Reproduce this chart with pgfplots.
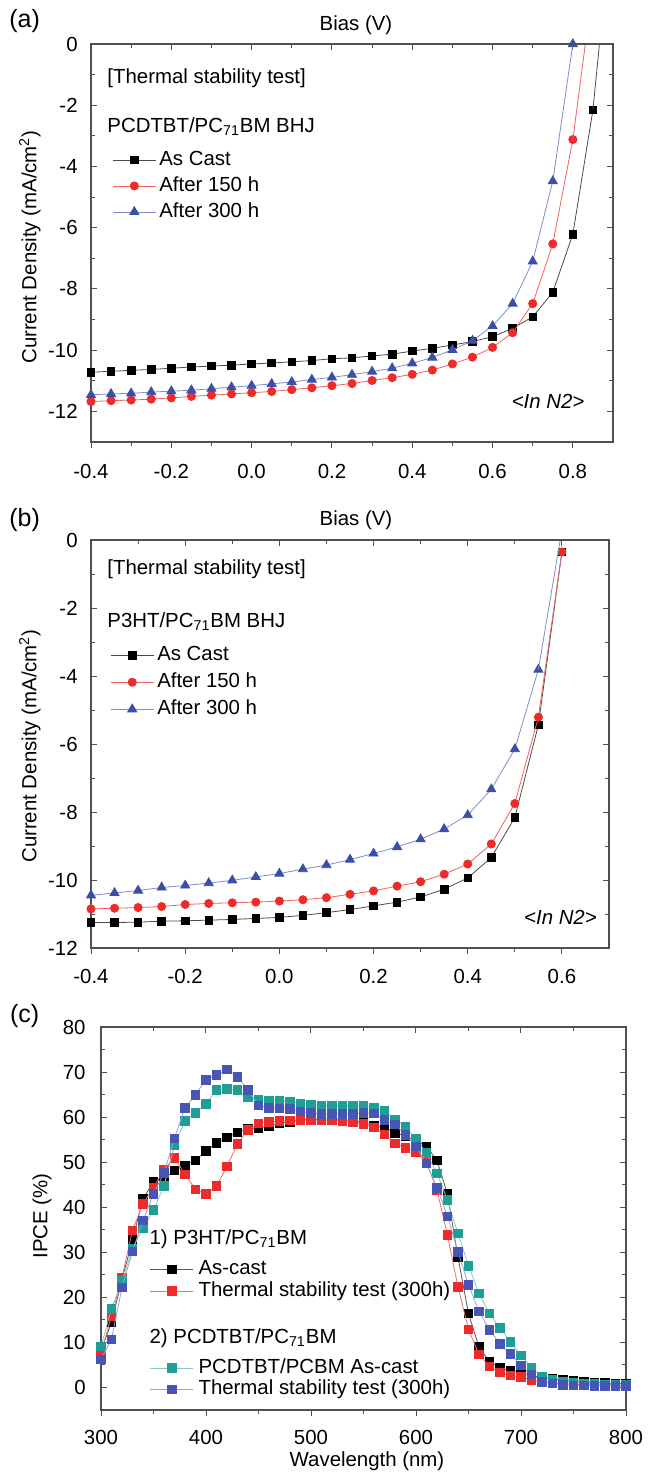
\documentclass[border=0pt]{standalone}
\usepackage{pgfplots}
\pgfplotsset{compat=1.18}
\usepackage{fontspec}
\setmainfont{Liberation Sans}
\definecolor{cred}{HTML}{EE2B2B}
\definecolor{cblue}{HTML}{3A4FA6}
\definecolor{cteal}{HTML}{1F9E95}
\definecolor{cbluesq}{HTML}{4755B5}
\definecolor{frm}{HTML}{505050}
\newcommand{\st}{\rule[-2.2pt]{0pt}{9.8pt}}
\newcommand{\fs}{\fontsize{10.2}{12}\selectfont}
\pgfplotsset{
  common/.style={
    scale only axis, clip mode=individual,
    axis line style={frm, line width=0.6pt},
    tick style={frm, line width=0.5pt},
    major tick length=3pt, minor tick length=1.8pt,
    tick label style={font=\fs},
    minor x tick num=1, minor y tick num=1,
  },
  datax/.style={common, tick align=inside, xtick pos=right, xticklabel pos=left,
    ytick pos=both, yticklabel pos=left,
    xticklabel style={inner sep=0pt, anchor=base, yshift=-18pt},
    legend cell align=left,
    legend image code/.code={\draw[mark repeat=2,mark phase=2] plot coordinates {(0cm,0cm)(0.38cm,0cm)(0.76cm,0cm)};},
  },
  botx/.style={common, hide y axis, tick align=outside, xtick pos=left, xticklabels={}, ymin=0, ymax=1},
  sblack/.style={color=black!70, line width=0.4pt, mark=square*, mark size=1.9pt, mark options={solid, fill=black, draw=black}},
  sred/.style={color=cred!75, line width=0.4pt, mark=*, mark size=2.05pt, mark options={solid, fill=cred, draw=cred}},
  sblue/.style={color=cblue!65, line width=0.4pt, mark=triangle*, mark size=2.6pt, mark options={solid, fill=cblue, draw=cblue}},
  qblack/.style={color=black!65, line width=0.4pt, mark=square*, mark size=2.15pt, mark options={solid, fill=black, draw=black}},
  qred/.style={color=cred!70, line width=0.4pt, mark=square*, mark size=2.15pt, mark options={solid, fill=cred, draw=cred}},
  qteal/.style={color=cteal!55, line width=0.4pt, mark=square*, mark size=2.15pt, mark options={solid, fill=cteal, draw=cteal}},
  qblue/.style={color=cbluesq!55, line width=0.4pt, mark=square*, mark size=2.15pt, mark options={solid, fill=cbluesq, draw=cbluesq}},
}
\begin{document}
\begin{tikzpicture}
\useasboundingbox (0,0) rectangle (324.5pt,-736.5pt);
% ---------------- (a) ----------------
\begin{axis}[datax, at={(45.5pt,-22pt)}, anchor=north west, width=261pt, height=199pt,
  xmin=-0.4, xmax=0.9, ymin=-13, ymax=0,
  xtick={-0.4,-0.2,0,0.2,0.4,0.6,0.8}, xticklabels={-0.4,-0.2,0.0,0.2,0.4,0.6,0.8},
  ytick={-12,-10,-8,-6,-4,-2,0}, yticklabels={-12,-10,-8,-6,-4,-2,0},
  yticklabel style={inner sep=0pt, anchor=east, xshift=-6.5pt},
  legend style={draw=none, fill=none, inner sep=0pt, at={(axis cs:-0.348,-3.42)}, anchor=north west, row sep=2.2pt, column sep=1pt, nodes={inner sep=0.5pt, text depth=, text height=}, font=\fs},
]
\addplot[sblack] coordinates {(-0.4,-10.72)(-0.35,-10.69)(-0.3,-10.66)(-0.25,-10.63)(-0.2,-10.59)(-0.15,-10.55)(-0.1,-10.52)(-0.05,-10.49)(0,-10.45)(0.05,-10.42)(0.1,-10.38)(0.15,-10.34)(0.2,-10.28)(0.25,-10.25)(0.3,-10.19)(0.35,-10.13)(0.4,-10.03)(0.45,-9.94)(0.5,-9.83)(0.55,-9.72)(0.6,-9.56)(0.65,-9.29)(0.7,-8.91)(0.75,-8.11)(0.8,-6.21)(0.85,-2.15)};
\addlegendentry{As Cast\st}
\addplot[sred] coordinates {(-0.4,-11.68)(-0.35,-11.65)(-0.3,-11.63)(-0.25,-11.60)(-0.2,-11.56)(-0.15,-11.51)(-0.1,-11.47)(-0.05,-11.43)(0,-11.39)(0.05,-11.35)(0.1,-11.29)(0.15,-11.23)(0.2,-11.16)(0.25,-11.09)(0.3,-10.99)(0.35,-10.90)(0.4,-10.79)(0.45,-10.65)(0.5,-10.45)(0.55,-10.23)(0.6,-9.91)(0.65,-9.43)(0.7,-8.48)(0.75,-6.53)(0.8,-3.12)};
\addlegendentry{After 150 h\st}
\addplot[sblue] coordinates {(-0.4,-11.46)(-0.35,-11.43)(-0.3,-11.41)(-0.25,-11.37)(-0.2,-11.34)(-0.15,-11.31)(-0.1,-11.26)(-0.05,-11.21)(0,-11.16)(0.05,-11.10)(0.1,-11.04)(0.15,-10.96)(0.2,-10.89)(0.25,-10.80)(0.3,-10.70)(0.35,-10.59)(0.4,-10.43)(0.45,-10.24)(0.5,-9.99)(0.55,-9.69)(0.6,-9.21)(0.65,-8.48)(0.7,-7.10)(0.75,-4.48)(0.8,0)};
\addlegendentry{After 300 h\st}
\addplot[color=black!70, line width=0.4pt, no marks, forget plot] coordinates {(0.85,-2.15)(0.9,4.5)};
\addplot[color=cred!75, line width=0.4pt, no marks, forget plot] coordinates {(0.8,-3.12)(0.85,1.9)};
\node[anchor=base west, inner sep=0pt, font=\fs] at (axis cs:-0.360,-1.28) {[Thermal stability test]};
\node[anchor=base west, inner sep=0pt, font=\fs] at (axis cs:-0.360,-2.90) {PCDTBT/PC\textsubscript{71}BM BHJ};
\node[anchor=base west, inner sep=0pt, font=\fs] at (axis cs:0.647,-11.91) {\textit{<In N2>}};
\end{axis}
\begin{axis}[botx, at={(45.5pt,-22pt)}, anchor=north west, width=261pt, height=199pt,
  xmin=-0.4, xmax=0.9, xtick={-0.4,-0.2,0,0.2,0.4,0.6,0.8}]
\end{axis}
% ---------------- (b) ----------------
\begin{axis}[datax, at={(45.5pt,-270pt)}, anchor=north west, width=259pt, height=204pt,
  xmin=-0.4, xmax=0.7, ymin=-12, ymax=0,
  xtick={-0.4,-0.2,0,0.2,0.4,0.6}, xticklabels={-0.4,-0.2,0.0,0.2,0.4,0.6},
  ytick={-12,-10,-8,-6,-4,-2,0}, yticklabels={-12,-10,-8,-6,-4,-2,0},
  yticklabel style={inner sep=0pt, anchor=east, xshift=-6.5pt},
  xticklabel style={yshift=0.5pt},
  legend style={draw=none, fill=none, inner sep=0pt, at={(axis cs:-0.36,-3.06)}, anchor=north west, row sep=2.7pt, column sep=1pt, nodes={inner sep=0.5pt, text depth=, text height=}, font=\fs},
]
\addplot[sblack] coordinates {(-0.4,-11.25)(-0.35,-11.25)(-0.3,-11.24)(-0.25,-11.21)(-0.2,-11.20)(-0.15,-11.18)(-0.1,-11.16)(-0.05,-11.13)(0,-11.10)(0.05,-11.04)(0.1,-10.96)(0.15,-10.87)(0.2,-10.76)(0.25,-10.65)(0.3,-10.50)(0.35,-10.27)(0.4,-9.94)(0.45,-9.34)(0.5,-8.16)(0.55,-5.44)(0.6,-0.35)};
\addlegendentry{As Cast\st}
\addplot[sred] coordinates {(-0.4,-10.85)(-0.35,-10.83)(-0.3,-10.81)(-0.25,-10.78)(-0.2,-10.72)(-0.15,-10.69)(-0.1,-10.67)(-0.05,-10.65)(0,-10.62)(0.05,-10.58)(0.1,-10.52)(0.15,-10.42)(0.2,-10.32)(0.25,-10.18)(0.3,-10.05)(0.35,-9.83)(0.4,-9.53)(0.45,-8.94)(0.5,-7.75)(0.55,-5.21)(0.6,-0.35)};
\addlegendentry{After 150 h\st}
\addplot[sblue] coordinates {(-0.4,-10.45)(-0.35,-10.38)(-0.3,-10.31)(-0.25,-10.22)(-0.2,-10.16)(-0.15,-10.09)(-0.1,-10.01)(-0.05,-9.91)(0,-9.81)(0.05,-9.68)(0.1,-9.56)(0.15,-9.40)(0.2,-9.22)(0.25,-9.03)(0.3,-8.80)(0.35,-8.50)(0.4,-8.09)(0.45,-7.33)(0.5,-6.15)(0.55,-3.81)};
\addlegendentry{After 300 h\st}
\addplot[color=cblue!65, line width=0.4pt, no marks, forget plot] coordinates {(0.55,-3.81)(0.6,0.3)};
\node[anchor=base west, inner sep=0pt, font=\fs] at (axis cs:-0.366,-1.01) {[Thermal stability test]};
\node[anchor=base west, inner sep=0pt, font=\fs] at (axis cs:-0.366,-2.57) {P3HT/PC\textsubscript{71}BM BHJ};
\node[anchor=base west, inner sep=0pt, font=\fs] at (axis cs:0.519,-11.30) {\textit{<In N2>}};
\end{axis}
\begin{axis}[botx, at={(45.5pt,-270pt)}, anchor=north west, width=259pt, height=204pt,
  xmin=-0.4, xmax=0.7, xtick={-0.4,-0.2,0,0.2,0.4,0.6}]
\end{axis}
% ---------------- (c) ----------------
\begin{axis}[datax, at={(50.5pt,-513.5pt)}, anchor=north west, width=262.5pt, height=191.5pt,
  xmin=300, xmax=800, ymin=-5, ymax=80,
  xtick={300,400,500,600,700,800}, xticklabels={300,400,500,600,700,800},
  ytick={0,10,20,30,40,50,60,70,80}, yticklabels={0,10,20,30,40,50,60,70,80},
  yticklabel style={inner sep=0pt, anchor=east, xshift=-7.5pt},
  xticklabel style={yshift=0.5pt},
  legend style={draw=none, fill=none, inner sep=0pt, at={(axis cs:345.9,35.3)}, anchor=north west, row sep=0pt, column sep=2pt, nodes={inner sep=0.45pt, text depth=, text height=}, font=\fs},
]
\addlegendimage{empty legend}
\addlegendentry{\hspace*{-24.45pt}1) P3HT/PC\textsubscript{71}BM\rule[-6.5pt]{0pt}{14.1pt}}
\addplot[qblack] coordinates {(300,8.3)(310,14.4)(320,24.0)(330,32.7)(340,41.9)(350,45.6)(360,46.3)(370,48.2)(380,49.3)(390,50.4)(400,52.5)(410,54.3)(420,55.5)(430,56.6)(440,57.4)(450,57.6)(460,58.0)(470,58.6)(480,59.0)(490,59.3)(500,59.5)(510,59.6)(520,59.6)(530,59.5)(540,59.2)(550,58.8)(560,58.2)(570,57.6)(580,56.5)(590,55.8)(600,54.8)(610,53.5)(620,50.4)(630,42.9)(640,28.9)(650,16.4)(660,9.0)(670,5.7)(680,4.4)(690,3.7)(700,3.3)(710,2.6)(720,2.2)(730,2.0)(740,1.7)(750,1.5)(760,1.3)(770,1.1)(780,1.0)(790,0.9)(800,0.8)};
\addlegendentry{As-cast\st}
\addplot[qred] coordinates {(300,7.6)(310,15.9)(320,24.4)(330,34.9)(340,40.8)(350,44.4)(360,48.3)(370,51.0)(380,47.3)(390,44.0)(400,43.0)(410,44.7)(420,49.1)(430,54.1)(440,57.2)(450,58.6)(460,58.9)(470,59.1)(480,59.3)(490,59.4)(500,59.4)(510,59.3)(520,59.3)(530,59.2)(540,59.0)(550,58.5)(560,57.7)(570,56.2)(580,54.2)(590,53.2)(600,52.2)(610,50.0)(620,43.8)(630,33.8)(640,22.3)(650,12.9)(660,7.3)(670,4.7)(680,3.3)(690,2.7)(700,2.3)(710,1.7)(720,1.2)(730,1.0)(740,0.8)(750,0.7)(760,0.6)(770,0.6)(780,0.5)(790,0.5)(800,0.5)};
\addlegendentry{Thermal stability test (300h)\st}
\addlegendimage{empty legend}
\addlegendentry{\rule[-4.3pt]{0pt}{11.9pt}}
\addlegendimage{empty legend}
\addlegendentry{\hspace*{-24.45pt}2) PCDTBT/PC\textsubscript{71}BM\rule[-6.5pt]{0pt}{14.1pt}}
\addplot[qteal] coordinates {(300,9.1)(310,17.5)(320,23.6)(330,30.8)(340,35.3)(350,39.4)(360,44.7)(370,53.8)(380,59.2)(390,61.0)(400,63.0)(410,66.0)(420,66.3)(430,66.0)(440,64.4)(450,63.8)(460,63.7)(470,63.6)(480,63.5)(490,63.0)(500,62.8)(510,62.6)(520,62.5)(530,62.5)(540,62.5)(550,62.5)(560,62.2)(570,61.4)(580,59.5)(590,57.8)(600,55.2)(610,52.0)(620,47.5)(630,41.6)(640,34.2)(650,27.0)(660,20.9)(670,16.4)(680,13.2)(690,10.1)(700,7.1)(710,4.4)(720,2.5)(730,1.7)(740,1.3)(750,1.1)(760,0.9)(770,0.8)(780,0.7)(790,0.6)(800,0.6)};
\addlegendentry{PCDTBT/PCBM As-cast\st}
\addplot[qblue] coordinates {(300,6.2)(310,10.7)(320,22.2)(330,30.2)(340,37.1)(350,43.0)(360,47.6)(370,55.3)(380,62.1)(390,65.0)(400,68.3)(410,69.4)(420,70.6)(430,68.9)(440,66.1)(450,62.6)(460,62.1)(470,61.9)(480,61.8)(490,61.3)(500,60.9)(510,60.7)(520,60.7)(530,60.7)(540,60.7)(550,60.9)(560,60.8)(570,59.4)(580,58.4)(590,56.0)(600,53.5)(610,49.7)(620,44.3)(630,38.0)(640,30.1)(650,22.8)(660,16.9)(670,12.8)(680,9.7)(690,7.4)(700,4.9)(710,2.9)(720,1.3)(730,0.9)(740,0.6)(750,0.5)(760,0.5)(770,0.4)(780,0.4)(790,0.4)(800,0.4)};
\addlegendentry{Thermal stability test (300h)\st}
\end{axis}
\begin{axis}[botx, at={(50.5pt,-513.5pt)}, anchor=north west, width=262.5pt, height=191.5pt,
  xmin=300, xmax=800, xtick={300,400,500,600,700,800}]
\end{axis}
% ---------------- labels ----------------
\node[font=\fontsize{12.5}{14}\selectfont, inner sep=0pt] at (12.3pt,-10.5pt) {(a)};
\node[font=\fontsize{12.5}{14}\selectfont, inner sep=0pt] at (12.3pt,-260pt) {(b)};
\node[font=\fontsize{12.5}{14}\selectfont, inner sep=0pt] at (12.3pt,-508pt) {(c)};
\node[font=\fs, inner sep=0pt, anchor=base] at (178pt,-15pt) {Bias (V)};
\node[font=\fs, inner sep=0pt, anchor=base] at (178pt,-262.5pt) {Bias (V)};
\node[font=\fs, inner sep=0pt, anchor=base] at (183.5pt,-733pt) {Wavelength (nm)};
\node[font=\fs, inner sep=0pt, rotate=90] at (15pt,-123.5pt) {Current Density (mA/cm\textsuperscript{2})};
\node[font=\fs, inner sep=0pt, rotate=90] at (15pt,-373pt) {Current Density (mA/cm\textsuperscript{2})};
\node[font=\fs, inner sep=0pt, rotate=90] at (21pt,-608pt) {IPCE (\%)};
\end{tikzpicture}
\end{document}
